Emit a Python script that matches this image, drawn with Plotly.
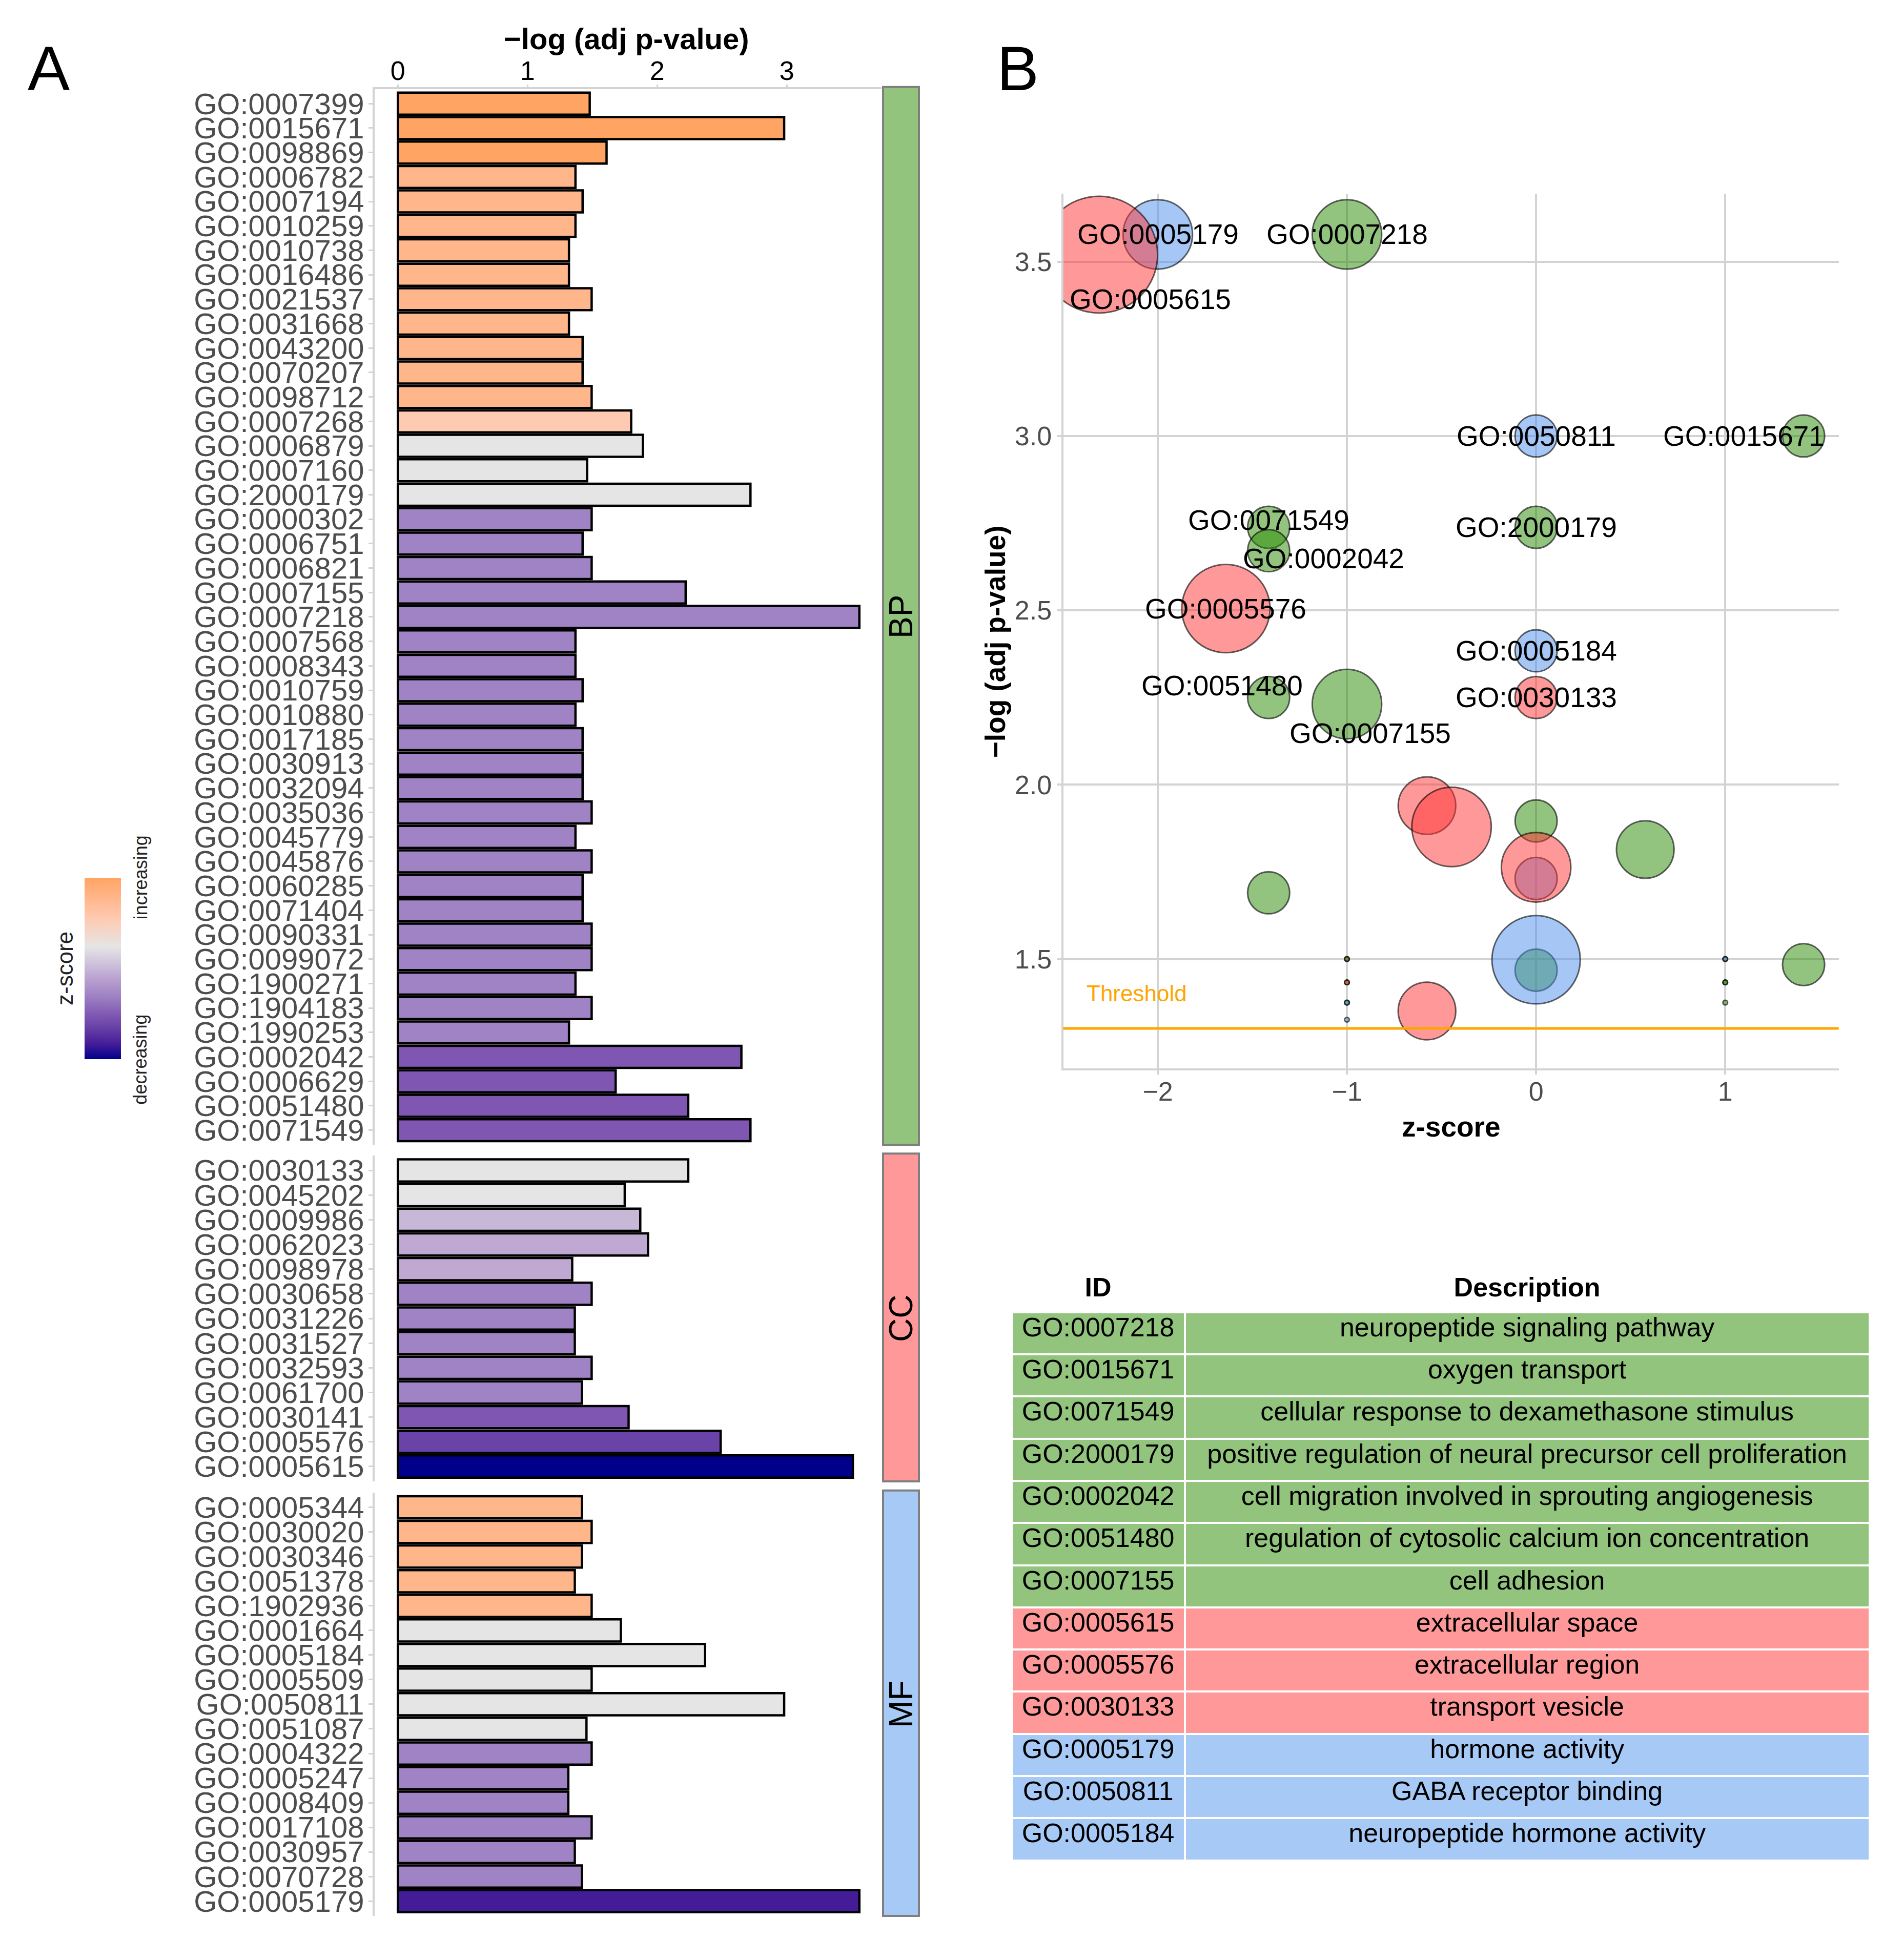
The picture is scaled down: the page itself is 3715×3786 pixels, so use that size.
import plotly.graph_objects as go
import math

W, H = 3715, 3786          # page (screenshot) size
OFF = 8                     # browser default body margin
FW, FH = W - 2 * OFF, H - 2 * OFF
FONT = "Liberation Sans, Arial, sans-serif"


def fx(px):
    return (px - OFF) / FW


def fy(py):
    return 1 - (py - OFF) / FH


# ---------------- data: GO bar chart (-log adj p-value, z-score) ----------------
bp_ids = ["GO:0007399", "GO:0015671", "GO:0098869", "GO:0006782", "GO:0007194", "GO:0010259",
          "GO:0010738", "GO:0016486", "GO:0021537", "GO:0031668", "GO:0043200", "GO:0070207",
          "GO:0098712", "GO:0007268", "GO:0006879", "GO:0007160", "GO:2000179", "GO:0000302",
          "GO:0006751", "GO:0006821", "GO:0007155", "GO:0007218", "GO:0007568", "GO:0008343",
          "GO:0010759", "GO:0010880", "GO:0017185", "GO:0030913", "GO:0032094", "GO:0035036",
          "GO:0045779", "GO:0045876", "GO:0060285", "GO:0071404", "GO:0090331", "GO:0099072",
          "GO:1900271", "GO:1904183", "GO:1990253", "GO:0002042", "GO:0006629", "GO:0051480",
          "GO:0071549"]
bp_logp = [1.48, 2.98, 1.61, 1.37, 1.425, 1.37, 1.32, 1.32, 1.495, 1.32, 1.425, 1.425,
           1.495, 1.80, 1.89, 1.46, 2.72, 1.495, 1.425, 1.495, 2.22, 3.56, 1.37, 1.37,
           1.425, 1.37, 1.425, 1.425, 1.425, 1.495, 1.37, 1.495, 1.425, 1.425, 1.495, 1.495,
           1.37, 1.495, 1.32, 2.65, 1.68, 2.24, 2.72]
bp_z = [1.414, 1.414, 1.414, 1, 1, 1, 1, 1, 1, 1, 1, 1,
        1, 0.577, 0, 0, 0, -1, -1, -1, -1, -1, -1, -1,
        -1, -1, -1, -1, -1, -1, -1, -1, -1, -1, -1, -1,
        -1, -1, -1, -1.414, -1.414, -1.414, -1.414]

cc_ids = ["GO:0030133", "GO:0045202", "GO:0009986", "GO:0062023", "GO:0098978", "GO:0030658",
          "GO:0031226", "GO:0031527", "GO:0032593", "GO:0061700", "GO:0030141", "GO:0005576",
          "GO:0005615"]
cc_logp = [2.24, 1.75, 1.87, 1.93, 1.345, 1.495, 1.365, 1.365, 1.495, 1.42, 1.78, 2.49, 3.51]
cc_z = [0, 0, -0.447, -0.577, -0.577, -1, -1, -1, -1, -1, -1.414, -1.64, -2.31]

mf_ids = ["GO:0005344", "GO:0030020", "GO:0030346", "GO:0051378", "GO:1902936", "GO:0001664",
          "GO:0005184", "GO:0005509", "GO:0050811", "GO:0051087", "GO:0004322", "GO:0005247",
          "GO:0008409", "GO:0017108", "GO:0030957", "GO:0070728", "GO:0005179"]
mf_logp = [1.42, 1.495, 1.42, 1.365, 1.495, 1.72, 2.37, 1.495, 2.98, 1.455, 1.495, 1.315,
           1.315, 1.495, 1.365, 1.42, 3.56]
mf_z = [1, 1, 1, 1, 1, 0, 0, 0, 0, 0, -1, -1, -1, -1, -1, -1, -2]

categories = ["BP", "CC", "MF"]

# ---------------- data: bubble chart (drawn in this order) ----------------
bub_ids = ["GO:0007160", "GO:0005509", "GO:0006879", "GO:0001664", "GO:0045202",
           "GO:0007218", "GO:0015671", "GO:0071549", "GO:0002042", "GO:2000179",
           "GO:0051480", "GO:0007155", "GO:0007268", "GO:0006629", "GO:0007399",
           "GO:0005179", "GO:0050811", "GO:0005184",
           "GO:0005615", "GO:0005576", "GO:0030133", "GO:0062023", "GO:0009986", "GO:0098978",
           "GO:0030658", "GO:0000302", "GO:0006751", "GO:0061700", "GO:0007568", "GO:0030957",
           "GO:0005247", "GO:0021537", "GO:0030020", "GO:0007194", "GO:0043200", "GO:0006782"]
bub_cat = ["BP", "MF", "BP", "MF", "CC",
           "BP", "BP", "BP", "BP", "BP",
           "BP", "BP", "BP", "BP", "BP",
           "MF", "MF", "MF",
           "CC", "CC", "CC", "CC", "CC", "CC",
           "CC", "BP", "BP", "CC", "BP", "MF",
           "MF", "BP", "MF", "BP", "BP", "BP"]
bub_z = [0, 0, 0, 0, 0,
         -1, 1.414, -1.414, -1.414, 0,
         -1.414, -1, 0.577, -1.414, 1.414,
         -2, 0, 0,
         -2.31, -1.64, 0, -0.577, -0.447, -0.577,
         -1, -1, -1, -1, -1, -1,
         -1, 1, 1, 1, 1, 1]
bub_logp = [1.468, 1.498, 1.896, 1.731, 1.763,
            3.578, 3.0, 2.738, 2.671, 2.738,
            2.25, 2.231, 1.814, 1.69, 1.484,
            3.578, 3.0, 2.384,
            3.52, 2.505, 2.25, 1.94, 1.879, 1.351,
            1.5, 1.5, 1.433, 1.433, 1.375, 1.375,
            1.326, 1.5, 1.5, 1.433, 1.433, 1.375]
bub_count = [2, 6, 2, 2, 4,
             4, 2, 2, 2, 2,
             2, 4, 3, 2, 2,
             4, 2, 2,
             10, 6, 2, 3, 5, 3,
             1, 1, 1, 1, 1, 1,
             1, 1, 1, 1, 1, 1]
threshold = -math.log10(0.05)

# ---------------- data: table ----------------
tab_ids = ["GO:0007218", "GO:0015671", "GO:0071549", "GO:2000179", "GO:0002042", "GO:0051480",
           "GO:0007155", "GO:0005615", "GO:0005576", "GO:0030133", "GO:0005179", "GO:0050811",
           "GO:0005184"]
tab_desc = ["neuropeptide signaling pathway", "oxygen transport",
            "cellular response to dexamethasone stimulus",
            "positive regulation of neural precursor cell proliferation",
            "cell migration involved in sprouting angiogenesis",
            "regulation of cytosolic calcium ion concentration", "cell adhesion",
            "extracellular space", "extracellular region", "transport vesicle",
            "hormone activity", "GABA receptor binding", "neuropeptide hormone activity"]
tab_cat = ["BP"] * 7 + ["CC"] * 3 + ["MF"] * 3

# ---------------- style ----------------
cat_solid = {"BP": "#93C47D", "CC": "#FF9999", "MF": "#A6C9F5"}
cat_alpha = {"BP": "rgba(40,137,0,0.5)", "CC": "rgba(255,50,50,0.5)", "MF": "rgba(77,143,235,0.5)"}
Z_MIN, Z_MAX = -2.31, 1.414
z_stops = [-2.31, -2.0, -1.64, -1.414, -1.0, -0.577, -0.447, 0.0, 0.577, 1.0, 1.414]
z_cols = ["#00008B", "#441C98", "#6A43A8", "#7F57B2", "#A083C4", "#BFA9D3", "#C8B8D8",
          "#E5E5E5", "#FECAB1", "#FFB68B", "#FFA463"]
colorscale = [[(z - Z_MIN) / (Z_MAX - Z_MIN), c] for z, c in zip(z_stops, z_cols)]
colorscale[0][0] = 0.0
colorscale[-1][0] = 1.0

SIZE_MIN, SIZE_MAX = 9.2, 228.0
cmin_c, cmax_c = min(bub_count), max(bub_count)


def size_scale(c):
    return SIZE_MIN + (SIZE_MAX - SIZE_MIN) * math.sqrt((c - cmin_c) / (cmax_c - cmin_c))


label_nudge = {
    "GO:0005615": (0.27, -0.128),
    "GO:0015671": (-0.317, 0.0),
    "GO:0071549": (0.0, 0.02),
    "GO:0002042": (0.29, -0.022),
    "GO:0051480": (-0.247, 0.034),
    "GO:0007155": (0.123, -0.084),
}

GRID = "#D3D3D3"
fig = go.Figure()

# ---------------- bar chart panels ----------------
panels = [(bp_ids, bp_logp, bp_z), (cc_ids, cc_logp, cc_z), (mf_ids, mf_logp, mf_z)]
panel_px = [(170, 2235), (2256, 2893), (2915, 3743)]
bar_dom_x = [fx(731), fx(1720)]
layout_axes = {}
for i, (ids, vals, zs) in enumerate(panels):
    sfx = "" if i == 0 else str(i + 1)
    fig.add_trace(go.Bar(
        x=vals, y=ids, orientation="h", width=0.9,
        marker=dict(color=zs, coloraxis="coloraxis", line=dict(color="black", width=4.5)),
        xaxis="x" + sfx, yaxis="y" + sfx, showlegend=False, hoverinfo="skip"))
    top, bot = panel_px[i]
    n = len(ids)
    layout_axes["yaxis" + sfx] = dict(
        domain=[fy(bot), fy(top)], anchor="x" + sfx, type="category",
        categoryorder="array", categoryarray=ids, range=[n - 0.4, -0.6],
        tickmode="array", tickvals=ids, ticktext=ids,
        ticks="outside", ticklen=8, tickwidth=3, tickcolor=GRID, ticklabelstandoff=-3,
        showline=True, linecolor=GRID, linewidth=4, showgrid=False, zeroline=False,
        tickfont=dict(size=58, color="#4D4D4D", family=FONT))
    if i == 0:
        layout_axes["xaxis"] = dict(
            domain=bar_dom_x, anchor="y", side="top", range=[-0.179, 3.731],
            tickmode="array", tickvals=[0, 1, 2, 3], ticktext=["0", "1", "2", "3"],
            ticks="outside", ticklen=5, tickwidth=3, tickcolor=GRID, ticklabelstandoff=-12,
            showline=True, linecolor=GRID, linewidth=4, showgrid=False, zeroline=False,
            tickfont=dict(size=52, color="black", family=FONT))
    else:
        layout_axes["xaxis" + sfx] = dict(domain=bar_dom_x, anchor="y" + sfx, matches="x",
                                          visible=False, showgrid=False, zeroline=False)

# ---------------- bubble chart ----------------
fig.add_trace(go.Scatter(
    x=bub_z, y=bub_logp, mode="markers", xaxis="x4", yaxis="y4",
    marker=dict(size=[size_scale(c) for c in bub_count], sizemode="diameter", opacity=1,
                color=[cat_alpha[c] for c in bub_cat],
                line=dict(color="rgba(0,0,0,0.6)", width=3)),
    showlegend=False, hoverinfo="skip"))

layout_axes["xaxis4"] = dict(
    domain=[fx(2074.5), fx(3587.7)], anchor="y4", range=[-2.5, 1.6],
    tickmode="array", tickvals=[-2, -1, 0, 1], ticktext=["\u22122", "\u22121", "0", "1"],
    ticks="outside", ticklen=8, tickwidth=4, tickcolor=GRID, ticklabelstandoff=-12,
    showgrid=True, gridcolor=GRID, gridwidth=4, zeroline=False,
    showline=True, linecolor=GRID, linewidth=4,
    tickfont=dict(size=52, color="#4D4D4D", family=FONT))
layout_axes["yaxis4"] = dict(
    domain=[fy(2085.7), fy(374.6)], anchor="x4", range=[1.186, 3.695],
    tickmode="array", tickvals=[1.5, 2.0, 2.5, 3.0, 3.5], ticktext=["1.5", "2.0", "2.5", "3.0", "3.5"],
    ticks="outside", ticklen=8, tickwidth=4, tickcolor=GRID,
    showgrid=True, gridcolor=GRID, gridwidth=4, zeroline=False,
    showline=True, linecolor=GRID, linewidth=4,
    tickfont=dict(size=52, color="#4D4D4D", family=FONT))

annotations = []
shapes = []

shapes.append(dict(type="line", xref="x4 domain", yref="y4", x0=0, x1=1, y0=threshold, y1=threshold,
                   line=dict(color="#FFA500", width=5), layer="above"))
annotations.append(dict(text="Threshold", xref="x4 domain", yref="y4", x=0.0287, y=threshold + 0.1,
                        xanchor="left", yanchor="middle", showarrow=False,
                        font=dict(size=44, color="#FFA500", family=FONT)))

lookup = {gid: (z, p) for gid, z, p in zip(bub_ids, bub_z, bub_logp)}
for gid in tab_ids:
    z, p = lookup[gid]
    dx, dy = label_nudge.get(gid, (0.0, 0.0))
    annotations.append(dict(text=gid, xref="x4", yref="y4", x=z + dx, y=p + dy, showarrow=False,
                            xanchor="center", yanchor="middle",
                            font=dict(size=55, color="black", family=FONT)))

# axis titles
annotations.append(dict(text="<b>\u2212log (adj p-value)</b>", xref="paper", yref="paper",
                        x=fx(1222), y=fy(72), showarrow=False, xanchor="center", yanchor="middle",
                        font=dict(size=58, color="black", family=FONT)))
annotations.append(dict(text="<b>\u2212log (adj p-value)</b>", xref="paper", yref="paper",
                        x=fx(1942), y=fy(1251), showarrow=False, textangle=-90,
                        xanchor="center", yanchor="middle",
                        font=dict(size=55, color="black", family=FONT)))
annotations.append(dict(text="<b>z-score</b>", xref="paper", yref="paper",
                        x=fx(2831), y=fy(2200), showarrow=False, xanchor="center", yanchor="middle",
                        font=dict(size=55, color="black", family=FONT)))

# panel letters
for letter, px in (("A", 95), ("B", 1986)):
    annotations.append(dict(text=letter, xref="paper", yref="paper", x=fx(px), y=fy(130),
                            showarrow=False, xanchor="center", yanchor="middle",
                            font=dict(size=123, color="black", family=FONT)))

# facet strips
for cat, (top, bot) in zip(categories, panel_px):
    shapes.append(dict(type="rect", xref="paper", yref="paper", x0=fx(1723), x1=fx(1793),
                       y0=fy(bot), y1=fy(top - 4), fillcolor=cat_solid[cat],
                       line=dict(color="#7F7F7F", width=4), layer="above"))
    annotations.append(dict(text=cat, xref="paper", yref="paper", x=fx(1758),
                            y=fy((top + bot) / 2), showarrow=False, textangle=-90,
                            xanchor="center", yanchor="middle",
                            font=dict(size=64, color="black", family=FONT)))

# colorbar legend texts
annotations.append(dict(text="z-score", xref="paper", yref="paper", x=fx(126), y=fy(1890),
                        showarrow=False, textangle=-90, xanchor="center", yanchor="middle",
                        font=dict(size=44, color="#222222", family=FONT)))
annotations.append(dict(text="increasing", xref="paper", yref="paper", x=fx(274), y=fy(1712),
                        showarrow=False, textangle=-90, xanchor="center", yanchor="middle",
                        font=dict(size=36, color="#222222", family=FONT)))
annotations.append(dict(text="decreasing", xref="paper", yref="paper", x=fx(274), y=fy(2068),
                        showarrow=False, textangle=-90, xanchor="center", yanchor="middle",
                        font=dict(size=36, color="#222222", family=FONT)))

# ---------------- table ----------------
fills = [cat_solid[c] for c in tab_cat]
fig.add_trace(go.Table(
    domain=dict(x=[fx(1973.5), fx(3648.5)], y=[fy(3660), fy(2476)]),
    columnwidth=[337.5, 1333],
    header=dict(values=["<b>ID</b>", "<b>Description</b>"], fill_color="white",
                line=dict(color="white", width=0), height=86, align="center",
                font=dict(size=52, color="black", family=FONT)),
    cells=dict(values=[tab_ids, tab_desc], fill_color=[fills, fills],
               line=dict(color="white", width=4), height=82.3, align="center",
               font=dict(size=52, color="black", family=FONT))))

fig.update_layout(
    width=FW, height=FH, margin=dict(l=0, r=0, t=0, b=0),
    paper_bgcolor="white", plot_bgcolor="white",
    font=dict(family=FONT), showlegend=False,
    coloraxis=dict(colorscale=colorscale, cmin=Z_MIN, cmax=Z_MAX,
                   colorbar=dict(x=fx(165), xanchor="left", y=fy(1890), yanchor="middle",
                                 len=354, lenmode="pixels", thickness=71, thicknessmode="pixels",
                                 outlinewidth=0, showticklabels=False, ticks="", xpad=0, ypad=0,
                                 title=dict(text=""))),
    annotations=annotations, shapes=shapes, bargap=0.1,
    **layout_axes)

fig.write_html("out.html")
